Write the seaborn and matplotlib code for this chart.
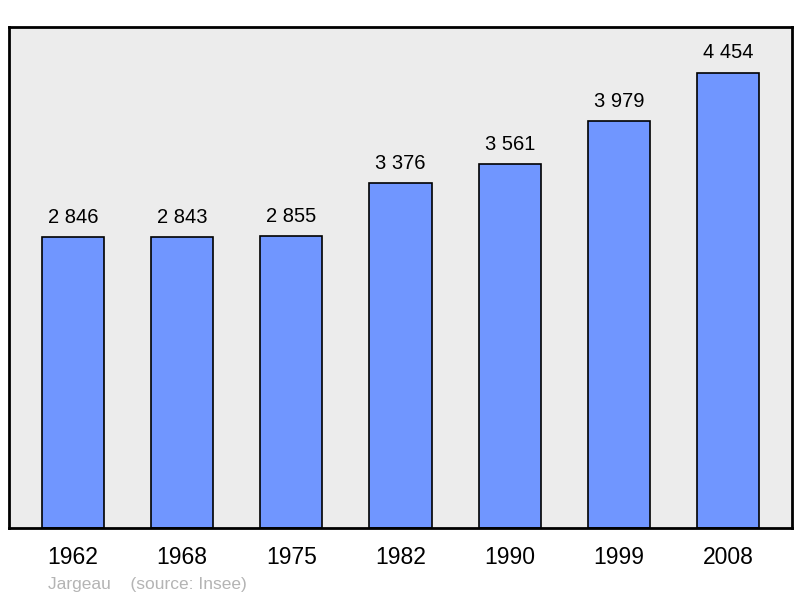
import pandas as pd
import matplotlib
matplotlib.use("Agg")
import matplotlib.pyplot as plt
import seaborn as sns

# données population
years = ["1962", "1968", "1975", "1982", "1990", "1999", "2008"]
population = [2846, 2843, 2855, 3376, 3561, 3979, 4454]
commune = "Jargeau"
source = "(source: Insee)"

df = pd.DataFrame({"year": years, "pop": population})

sns.set_theme(style="white")
plt.rcParams['font.family'] = ['Liberation Sans', 'DejaVu Sans']

fig = plt.figure(figsize=(8, 5.98), dpi=100)
ax = fig.add_axes([0.01125, 0.117, 0.97875, 0.838])
ax.set_facecolor("#ececec")

sns.barplot(data=df, x="year", y="pop", color="#7096ff", saturation=1,
            width=0.57, edgecolor="black", linewidth=1.2, ax=ax)

for i, v in enumerate(population):
    ax.text(i, v + 100, f"{v:,}".replace(",", " "), ha="center", va="bottom",
            fontsize=14.5, color="black")

ax.set_xlim(-0.585, 6.585)
ax.set_ylim(0, 4900)
ax.set_yticks([])
ax.set_xlabel("")
ax.set_ylabel("")
ax.tick_params(axis="x", labelsize=16.5, pad=13, length=0, labelcolor="black")
for s in ax.spines.values():
    s.set_visible(True)
    s.set_color("black")
    s.set_linewidth(2)

fig.text(48 / 800, 1 - 584 / 598, f"{commune}    {source}", color="#b4b4b4",
         fontsize=12.5, ha="left", va="center")

fig.savefig("out.png", dpi=100)
